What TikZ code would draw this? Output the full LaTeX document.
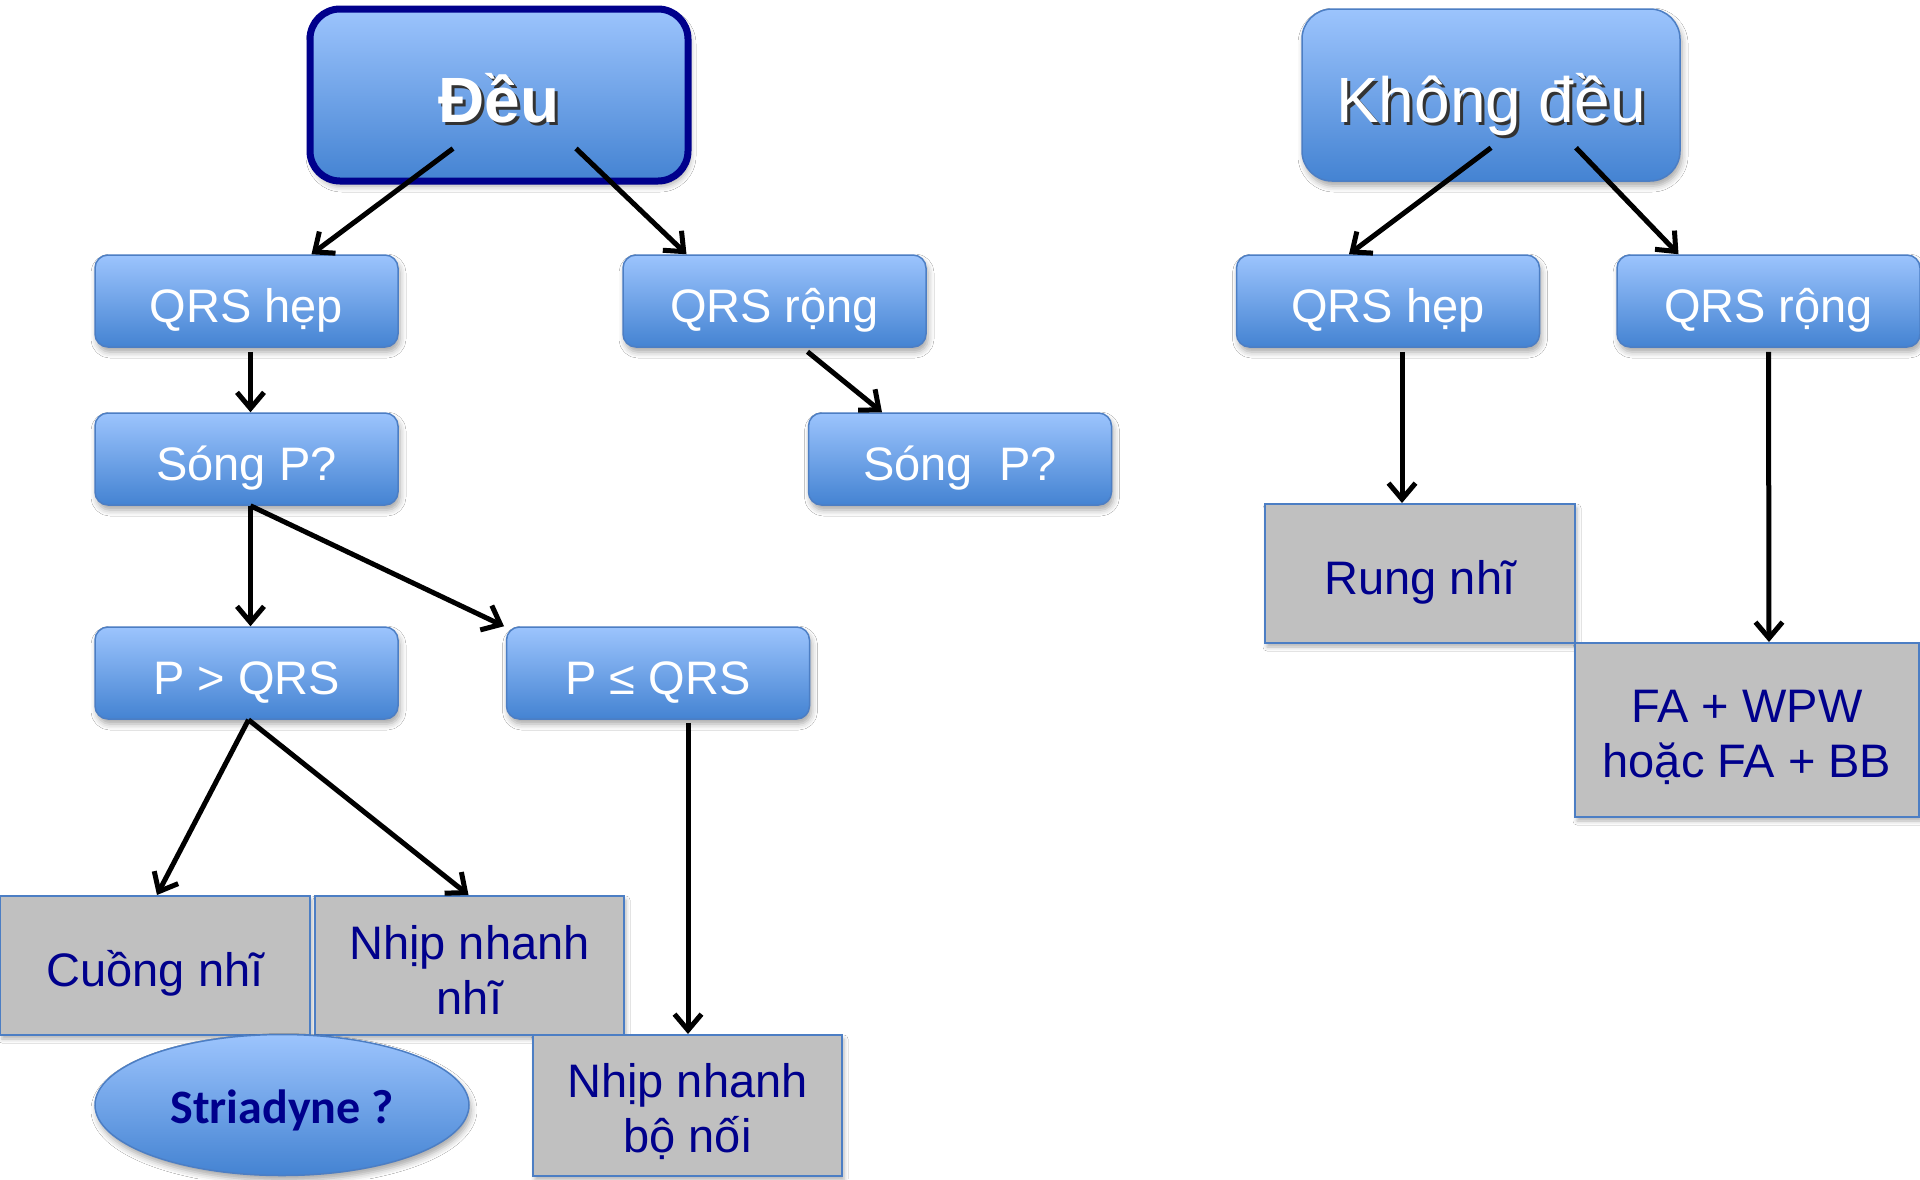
\documentclass[tikz,border=0pt]{standalone}
\usepackage{fontspec}
\setmainfont{Liberation Sans}
\newfontfamily\calfont{Carlito}
\usetikzlibrary{arrows.meta,shapes.geometric,shadows.blur,calc}
\definecolor{bluetop}{RGB}{156,196,253}
\definecolor{bluebot}{RGB}{68,131,210}
\definecolor{boxedge}{RGB}{76,126,196}
\definecolor{navytext}{RGB}{0,0,140}
\definecolor{greyfill}{RGB}{192,192,192}
% white caption with a dark offset copy behind it
\newcommand\shtext[1]{\leavevmode\rlap{\kern3pt\raisebox{-3pt}{\textcolor{black!80}{#1}}}#1}
\begin{document}
\begin{tikzpicture}[x=1pt,y=-1pt,
  softshadow/.style={blur shadow={shadow xshift=2pt,shadow yshift=-5pt,shadow blur radius=6pt,shadow opacity=35}},
  headbox/.style={rectangle,rounded corners=30,top color=bluetop,bottom color=bluebot,
    text=white,minimum width=378,minimum height=172,inner sep=0,softshadow,
    text height=54pt,text depth=0pt},
  bluebox/.style={rectangle,rounded corners=13,draw=boxedge,line width=1.5,
    top color=bluetop,bottom color=bluebot,text=white,
    font=\fontsize{47}{55}\selectfont,minimum width=303,minimum height=92,inner sep=0,softshadow,
    text height=42pt,text depth=0pt},
  greybox/.style={rectangle,draw=boxedge,line width=2,fill=greyfill,text=navytext,
    font=\fontsize{47}{55}\selectfont,align=center,inner sep=0,
    blur shadow={shadow xshift=2pt,shadow yshift=-4pt,shadow blur radius=4pt,shadow opacity=30}},
  oneline/.style={text height=42pt,text depth=0pt},
  twoline/.style={text height=#1,text depth=0pt},
  arr/.style={line width=5pt,-{Straight Barb[length=16pt,width=27pt]}}]

\useasboundingbox (0,0) rectangle (1920,1179);
\fill[white] (0,0) rectangle (1920,1179);

% headings
\node[headbox,draw=navytext,line width=7,font=\fontsize{64}{70}\selectfont\bfseries]
  (deu) at (499,95) {\shtext{Đều}};
\node[headbox,draw=boxedge,line width=1.5,font=\fontsize{64}{70}\selectfont]
  (khong) at (1491,95) {\shtext{Không đều}};

% regular branch
\node[bluebox] (qrsL)  at (246.5,301) {QRS hẹp};
\node[bluebox] (qrsW)  at (774.5,301) {QRS rộng};
\node[bluebox] (songL) at (246.5,459) {Sóng P?};
\node[bluebox] (songR) at (960,459)   {Sóng\ \ P?};
\node[bluebox] (pgt)   at (246.5,673) {P > QRS};
\node[bluebox] (ple)   at (658,673)   {P ≤ QRS};

\node[greybox,oneline,minimum width=310,minimum height=139] (cuong) at (155,965.5) {Cuồng nhĩ};
\node[greybox,twoline=97pt,minimum width=309,minimum height=139] (nnn) at (469.5,965.5) {Nhịp nhanh\\nhĩ};
\node[ellipse,draw=boxedge,line width=1.5,top color=bluetop,bottom color=bluebot,
  minimum width=374,minimum height=141,inner sep=0,softshadow,text=navytext,
  text height=36pt,text depth=0pt,
  font=\fontsize{48}{55}\selectfont\calfont\bfseries] (strid) at (282,1105) {Striadyne ?};
\node[greybox,twoline=93pt,minimum width=309,minimum height=141] (bonoi) at (687.5,1105.5) {Nhịp nhanh\\bộ nối};

% irregular branch
\node[bluebox] (qrsH2) at (1388,301)   {QRS hẹp};
\node[bluebox] (qrsR2) at (1768.5,301) {QRS rộng};
\node[greybox,oneline,minimum width=310,minimum height=139] (rung) at (1420,573.5) {Rung nhĩ};
\node[greybox,twoline=95pt,minimum width=344,minimum height=174] (fa) at (1747,730) {FA + WPW\\hoặc FA + BB};

% connectors
\draw[arr] ($(deu.south)+(-46,-36)$) -- ($(qrsL.north)+(65,0)$);
\draw[arr] ($(deu.south)+(77,-36)$) -- ($(qrsW.north)+(-88,0)$);
\draw[arr] ($(qrsL.south)+(4,4)$) -- ($(songL.north)+(4,0)$);
\draw[arr] ($(qrsW.south)+(33,4)$) -- ($(songR.north)+(-78,0)$);
\draw[arr] ($(songL.south)+(4,0)$) -- ($(pgt.north)+(4,0)$);
\draw[arr] ($(songL.south)+(4,0)$) -- ($(ple.north)+(-154,0)$);
\draw[arr] ($(pgt.south)+(2,0)$) -- ($(cuong.north)+(2,0)$);
\draw[arr] ($(pgt.south)+(2,0)$) -- ($(nnn.north)+(-1,0)$);
\draw[arr] ($(ple.south)+(30,3)$) -- ($(bonoi.north)+(0.5,0)$);
\draw[arr] ($(khong.south)+(0,-34)$) -- ($(qrsH2.north)+(-39,0)$);
\draw[arr] ($(khong.south)+(85,-34)$) -- ($(qrsR2.north)+(-90,0)$);
\draw[arr] ($(qrsH2.south)+(14,4)$) -- ($(rung.north)+(-18,0)$);
\draw[arr] ($(qrsR2.south)+(0,4)$) -- ($(fa.north)+(22,0)$);
\end{tikzpicture}
\end{document}
